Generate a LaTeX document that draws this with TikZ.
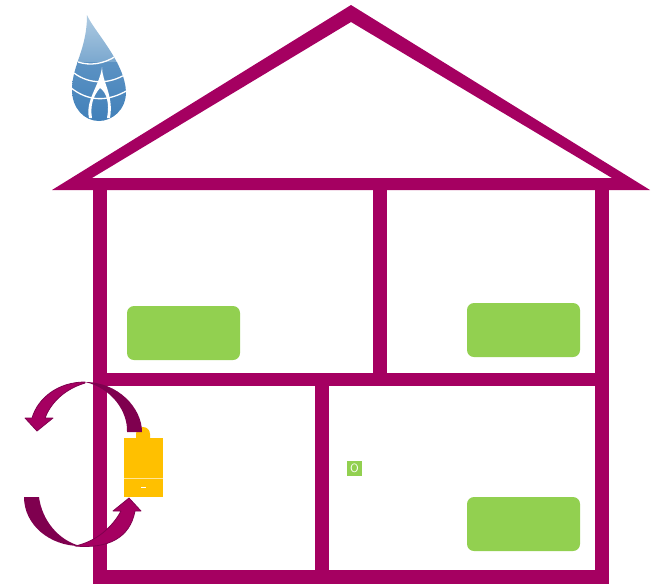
\documentclass[tikz,border=0pt]{standalone}
\usepackage{tikz}
\usepackage{xcolor}
\definecolor{HouseBerry}{HTML}{A50061}
\definecolor{ArrowDark}{HTML}{7F004F}
\definecolor{RadGreen}{HTML}{92D050}
\definecolor{BoilerGold}{HTML}{FFC000}
\definecolor{DropLight}{HTML}{B4CFE4}
\definecolor{DropMid}{HTML}{7BA8CF}
\definecolor{DropDeep}{HTML}{3F7FB9}
\tikzset{
  wall/.style={fill=HouseBerry,draw=none},
  radiator/.style={fill=RadGreen,draw=none,rounded corners=7pt,minimum width=113pt,minimum height=54pt,inner sep=0pt},
  boiler/.style={fill=BoilerGold,draw=none},
  arrowmain/.style={fill=HouseBerry,draw=ArrowDark,line width=.8pt,line join=round},
  arrowback/.style={fill=ArrowDark,draw=none},
  dropline/.style={draw=white,line width=1.3pt}
}
\begin{document}
\begin{tikzpicture}[x=1pt,y=-1pt]
  \useasboundingbox (0,0) rectangle (655,584);
  % roof
  \fill[wall,even odd rule] (351,5) -- (650,190) -- (52,190) -- cycle
    (351,22) -- (612,178) -- (92,178) -- cycle;
  % walls and floors
  \fill[wall] (93,178) rectangle (107,584);
  \fill[wall] (595,178) rectangle (609,584);
  \fill[wall] (93,570) rectangle (609,584);
  \fill[wall] (93,373) rectangle (609,386);
  \fill[wall] (373,178) rectangle (387,386);
  \fill[wall] (315,373) rectangle (329,584);
  % radiators
  \node[radiator] (radleft) at (183.5,333) {};
  \node[radiator] (radright) at (523.5,330) {};
  \node[radiator] (radlower) at (523.5,524) {};
  % thermostat
  \node[fill=RadGreen,minimum size=15pt,inner sep=0pt,text=white,font=\sffamily\large] (stat) at (354.5,468.5) {O};
  % boiler
  \fill[boiler] (136,438) -- (136,434) arc[start angle=180,end angle=0,radius=7pt] -- (150,438) -- cycle;
  \fill[boiler] (123.5,438) rectangle (163,497);
  \draw[white,opacity=.6,line width=.7pt] (123.5,478) -- (163,478);
  \draw[white,line width=1pt] (141,487) -- (145.5,487);
  % upper arrow
  \fill[arrowback] (142,432) .. controls (142,408) and (118,382) .. (85,382)
    .. controls (112,388) and (128,412) .. (127,432) -- cycle;
  \draw[arrowmain] (85,382) .. controls (58,382) and (38,398) .. (32,418) -- (25,418) -- (37,431) -- (53,418) -- (45,418)
    .. controls (50,405) and (62,390) .. (85,383) -- cycle;
  % lower arrow
  \fill[arrowback] (24,497) .. controls (24,525) and (50,546) .. (80,546)
    .. controls (58,540) and (42,520) .. (39,497) -- cycle;
  \draw[arrowmain] (75,546) .. controls (108,549) and (130,538) .. (135,511) -- (141,511) -- (129,498) -- (113,511) -- (121,511)
    .. controls (112,528) and (95,542) .. (75,546) -- cycle;
  % drop
  \begin{scope}
    \clip (87,15) .. controls (93,30) and (125,62) .. (126,92) .. controls (126,110) and (112,121) .. (99,121)
      .. controls (84,121) and (72,108) .. (72,90) .. controls (72,65) and (87,50) .. (87,15) -- cycle;
    \shade[top color=DropLight,bottom color=DropMid] (60,10) rectangle (130,62);
    \shade[top color=DropDeep!85!white,bottom color=DropDeep] (60,62) rectangle (130,125);
    \draw[dropline] (78,62) .. controls (90,66) and (104,64) .. (116,56);
    \draw[dropline] (74,73) .. controls (90,85) and (110,84) .. (126,74);
    \draw[dropline] (70,87) .. controls (88,102) and (108,102) .. (128,90);
    \fill[white] (102,67) .. controls (102,82) and (114,95) .. (110,118) -- (107,118)
      .. controls (110,102) and (106,92) .. (100,88) .. controls (93,96) and (90,106) .. (92,118) -- (89,118)
      .. controls (85,100) and (100,85) .. (102,67) -- cycle;
  \end{scope}
\end{tikzpicture}
\end{document}
